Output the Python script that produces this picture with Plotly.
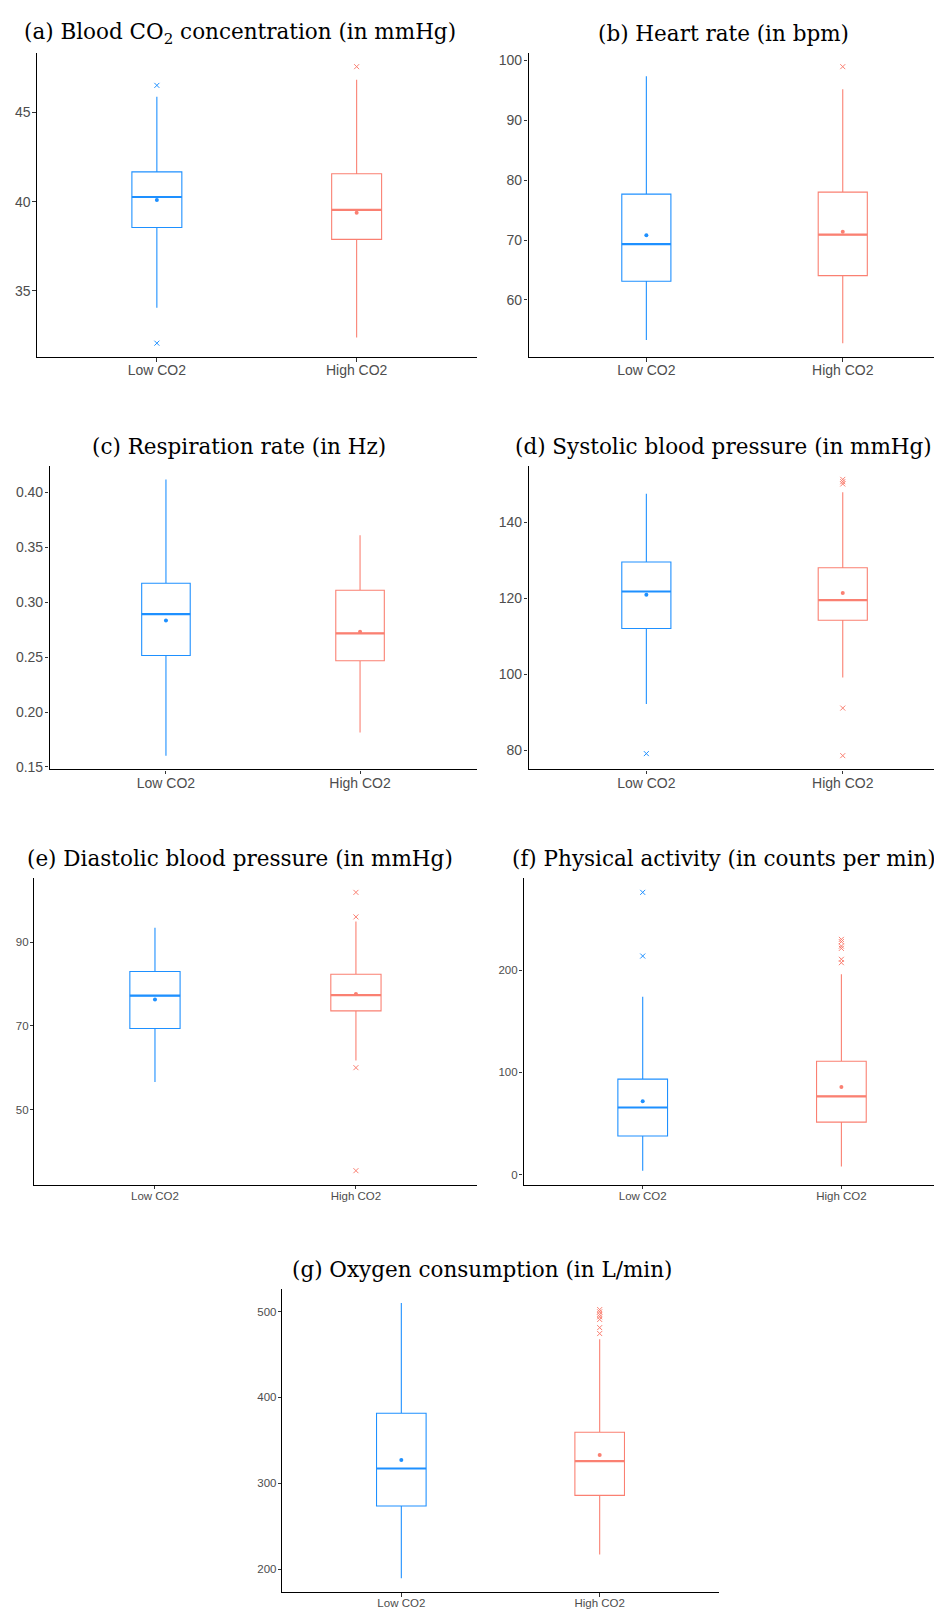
import plotly.graph_objects as go

W, H = 942, 1609

groups = ["Low CO2", "High CO2"]
group_colors = ["#1E90FF", "#FA8072"]

titles = [
    "(a) Blood CO<sub>2</sub> concentration (in mmHg)",
    "(b) Heart rate (in bpm)",
    "(c) Respiration rate (in Hz)",
    "(d) Systolic blood pressure (in mmHg)",
    "(e) Diastolic blood pressure (in mmHg)",
    "(f) Physical activity (in counts per min)",
    "(g) Oxygen consumption (in L/min)",
]

# (a) Blood CO2 concentration
co2_lower = [34.05, 32.38]
co2_q1 = [38.55, 37.88]
co2_median = [40.26, 39.54]
co2_q3 = [41.67, 41.56]
co2_upper = [45.88, 46.84]
co2_mean = [40.09, 39.37]
co2_outliers = [[46.52, 32.06], [47.57]]
co2_ticks = [35, 40, 45]

# (b) Heart rate
hr_lower = [53.33, 52.78]
hr_q1 = [63.11, 64.06]
hr_median = [69.33, 70.9]
hr_q3 = [77.67, 78.0]
hr_upper = [97.33, 95.17]
hr_mean = [70.78, 71.4]
hr_outliers = [[], [98.94]]
hr_ticks = [60, 70, 80, 90, 100]

# (c) Respiration rate
rr_lower = [0.1603, 0.1813]
rr_q1 = [0.2515, 0.2467]
rr_median = [0.2891, 0.2716]
rr_q3 = [0.3172, 0.3109]
rr_upper = [0.4118, 0.3609]
rr_mean = [0.2834, 0.2731]
rr_outliers = [[], []]
rr_ticks = [0.15, 0.20, 0.25, 0.30, 0.35, 0.40]

# (d) Systolic blood pressure
sbp_lower = [92.17, 99.13]
sbp_q1 = [112.0, 114.2]
sbp_median = [121.74, 119.48]
sbp_q3 = [129.48, 128.0]
sbp_upper = [147.4, 147.8]
sbp_mean = [120.87, 121.35]
sbp_outliers = [[79.13], [151.2, 150.6, 150.0, 91.1, 78.6]]
sbp_ticks = [80, 100, 120, 140]

# (e) Diastolic blood pressure
dbp_lower = [56.57, 61.7]
dbp_q1 = [69.36, 73.55]
dbp_median = [77.2, 77.3]
dbp_q3 = [82.96, 82.3]
dbp_upper = [93.4, 94.9]
dbp_mean = [76.3, 77.6]
dbp_outliers = [[], [101.86, 96.0, 60.0, 35.4]]
dbp_ticks = [50, 70, 90]

# (f) Physical activity
pa_lower = [3.9, 8.1]
pa_q1 = [37.9, 51.4]
pa_median = [65.7, 76.7]
pa_q3 = [93.5, 111.0]
pa_upper = [174.0, 196.1]
pa_mean = [71.8, 85.7]
pa_outliers = [[276.2, 213.9], [230.2, 228.0, 223.6, 221.4, 210.7, 207.4]]
pa_ticks = [0, 100, 200]

# (g) Oxygen consumption
vo2_lower = [189.3, 216.9]
vo2_q1 = [273.6, 285.9]
vo2_median = [317.2, 325.7]
vo2_q3 = [381.6, 359.4]
vo2_upper = [510.0, 467.8]
vo2_mean = [327.2, 333.0]
vo2_outliers = [[], [502.3, 499.7, 496.6, 493.9, 490.8, 481.3, 474.4]]
vo2_ticks = [200, 300, 400, 500]

panels = [
    (co2_lower, co2_q1, co2_median, co2_q3, co2_upper, co2_mean, co2_outliers, co2_ticks, "d"),
    (hr_lower, hr_q1, hr_median, hr_q3, hr_upper, hr_mean, hr_outliers, hr_ticks, "d"),
    (rr_lower, rr_q1, rr_median, rr_q3, rr_upper, rr_mean, rr_outliers, rr_ticks, ".2f"),
    (sbp_lower, sbp_q1, sbp_median, sbp_q3, sbp_upper, sbp_mean, sbp_outliers, sbp_ticks, "d"),
    (dbp_lower, dbp_q1, dbp_median, dbp_q3, dbp_upper, dbp_mean, dbp_outliers, dbp_ticks, "d"),
    (pa_lower, pa_q1, pa_median, pa_q3, pa_upper, pa_mean, pa_outliers, pa_ticks, "d"),
    (vo2_lower, vo2_q1, vo2_median, vo2_q3, vo2_upper, vo2_mean, vo2_outliers, vo2_ticks, "d"),
]

# layout: panel pixel boxes (x0, x1, y0, y1), title centres, tick font sizes
boxes = [
    (29.0, 468.5, 44.0, 349.3),
    (520.5, 952.6, 44.0, 349.3),
    (41.5, 468.5, 458.3, 763.3),
    (520.5, 952.6, 458.3, 763.3),
    (26.4, 468.5, 872.7, 1180.0),
    (515.5, 952.6, 872.7, 1180.0),
    (274.3, 710.7, 1285.0, 1589.0),
]
title_pos = [(231.7, 24.5), (715.5, 24.5), (231.3, 438.7), (715.3, 438.7),
             (232.0, 853.0), (715.5, 853.0), (473.8, 1265.0)]
tick_sizes = [14, 14, 14, 14, 11.5, 11.5, 11.5]

BOX_W = 0.25
fig = go.Figure()
layout = dict(
    width=W, height=H, margin=dict(l=0, r=0, t=0, b=0),
    paper_bgcolor="white", plot_bgcolor="white", showlegend=False,
    annotations=[],
)

for p, (lo, q1, med, q3, up, mean, outs, ticks, fmt) in enumerate(panels):
    n = p + 1
    xa = "x" if n == 1 else f"x{n}"
    ya = "y" if n == 1 else f"y{n}"
    for i, g in enumerate(groups):
        c = group_colors[i]
        fig.add_trace(go.Box(
            x=[i], q1=[q1[i]], median=[med[i]], q3=[q3[i]],
            lowerfence=[lo[i]], upperfence=[up[i]], width=BOX_W,
            whiskerwidth=0, fillcolor="white", line=dict(color=c, width=1.1),
            boxpoints=False, xaxis=xa, yaxis=ya, hoverinfo="skip", name=g,
        ))
        fig.add_trace(go.Scatter(
            x=[i - BOX_W / 2, i + BOX_W / 2], y=[med[i], med[i]], mode="lines",
            line=dict(color=c, width=2.2), xaxis=xa, yaxis=ya, hoverinfo="skip",
        ))
        fig.add_trace(go.Scatter(
            x=[i], y=[mean[i]], mode="markers",
            marker=dict(color=c, size=4), xaxis=xa, yaxis=ya, hoverinfo="skip",
        ))
        if outs[i]:
            fig.add_trace(go.Scatter(
                x=[i] * len(outs[i]), y=outs[i], mode="markers",
                marker=dict(symbol="x-thin", size=5, line=dict(width=1, color=c)),
                xaxis=xa, yaxis=ya, hoverinfo="skip",
            ))

    allv = lo + up + [v for o in outs for v in o]
    vmin, vmax = min(allv), max(allv)
    pad = 0.05 * (vmax - vmin)

    x0, x1, y0, y1 = boxes[p]
    span = 2.2
    xr1 = -0.6 + span * (min(x1, W) - x0) / (x1 - x0)
    fs = tick_sizes[p]
    xkey = "xaxis" if n == 1 else f"xaxis{n}"
    ykey = "yaxis" if n == 1 else f"yaxis{n}"
    layout[xkey] = dict(
        domain=[x0 / W, min(x1, W) / W], anchor=ya, range=[-0.6, xr1],
        tickvals=[0, 1], ticktext=groups, showgrid=False, zeroline=False,
        showline=True, linecolor="black", linewidth=1.1,
        ticks="outside", ticklen=3.5, tickwidth=1, tickcolor="#333333",
        ticklabelstandoff=-3,
        tickfont=dict(family="Liberation Sans", size=fs, color="#4D4D4D"),
        fixedrange=True,
    )
    layout[ykey] = dict(
        domain=[1 - y1 / H, 1 - y0 / H], anchor=xa, range=[vmin - pad, vmax + pad],
        tickvals=ticks, tickformat=fmt, showgrid=False, zeroline=False,
        showline=True, linecolor="black", linewidth=1.1,
        ticks="outside", ticklen=3.5, tickwidth=1, tickcolor="#333333",
        ticklabelstandoff=-1,
        tickfont=dict(family="Liberation Sans", size=fs, color="#4D4D4D"),
        fixedrange=True,
    )
    tx, ty = title_pos[p]
    layout["annotations"].append(dict(
        text=titles[p], x=tx / W, y=1 - ty / H, xref="paper", yref="paper",
        xanchor="center", yanchor="middle", showarrow=False,
        font=dict(family="DejaVu Serif", size=21.5, color="black"),
    ))

fig.update_layout(**layout)
fig.write_html("out.html")
